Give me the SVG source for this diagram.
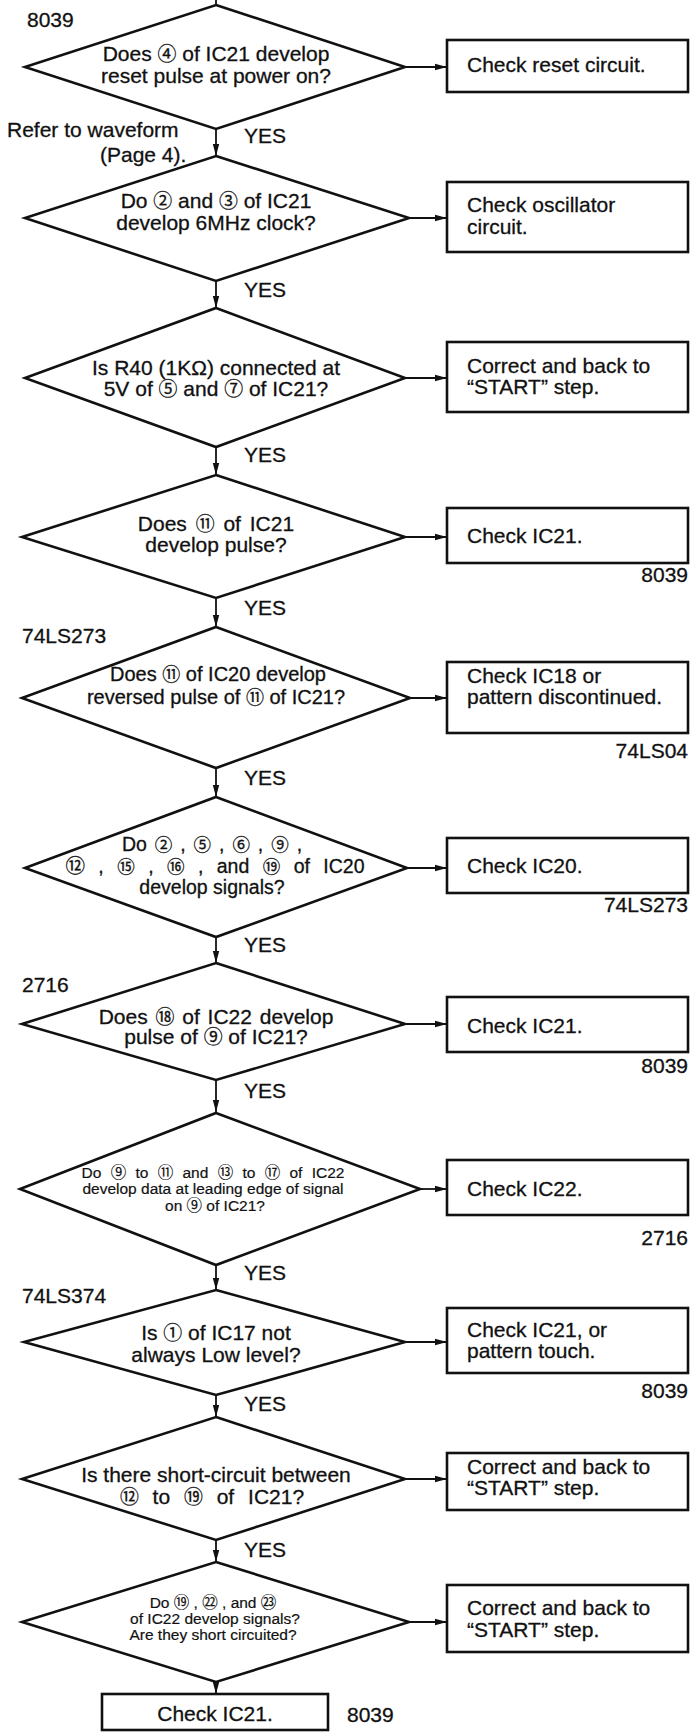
<svg xmlns="http://www.w3.org/2000/svg" width="690" height="1733" viewBox="0 0 690 1733">
<defs>
<marker id="ah" markerUnits="userSpaceOnUse" markerWidth="13" markerHeight="8" refX="12" refY="4" orient="auto">
<path d="M0,0.8 L12,4 L0,7.2 z" fill="#111"/>
</marker>
<style>
.shape{fill:#fff;stroke:#111;stroke-width:2.6;stroke-linejoin:miter}
.con{fill:none;stroke:#111;stroke-width:1.8}
text{font-family:"Liberation Sans","Noto Sans CJK JP",Arial,sans-serif;font-size:21px;fill:#111;stroke:#111;stroke-width:0.3}
.n{font-size:0.9em}
.c{text-anchor:middle}
.r{text-anchor:end}
.s15{font-size:15.5px;stroke-width:0.2}
.s20{font-size:19.5px}
.s205{font-size:20px}
</style>
</defs>
<rect width="690" height="1733" fill="#fff"/>

<g id="connectors">
<line class="con" x1="216" y1="0" x2="216" y2="5"/>
<line class="con" x1="216" y1="129" x2="216" y2="156" marker-end="url(#ah)"/>
<line class="con" x1="216" y1="281" x2="216" y2="308" marker-end="url(#ah)"/>
<line class="con" x1="216" y1="447" x2="216" y2="475" marker-end="url(#ah)"/>
<line class="con" x1="216" y1="598" x2="216" y2="627" marker-end="url(#ah)"/>
<line class="con" x1="216" y1="768" x2="216" y2="797" marker-end="url(#ah)"/>
<line class="con" x1="216" y1="937" x2="216" y2="963" marker-end="url(#ah)"/>
<line class="con" x1="216" y1="1080" x2="216" y2="1112" marker-end="url(#ah)"/>
<line class="con" x1="216" y1="1265" x2="216" y2="1290" marker-end="url(#ah)"/>
<line class="con" x1="216" y1="1395" x2="216" y2="1417" marker-end="url(#ah)"/>
<line class="con" x1="216" y1="1540" x2="216" y2="1562" marker-end="url(#ah)"/>
<line class="con" x1="216" y1="1682" x2="216" y2="1694" marker-end="url(#ah)"/>
<line class="con" x1="405" y1="67" x2="447" y2="67" marker-end="url(#ah)"/>
<line class="con" x1="409" y1="218" x2="447" y2="218" marker-end="url(#ah)"/>
<line class="con" x1="405" y1="378" x2="447" y2="378" marker-end="url(#ah)"/>
<line class="con" x1="405" y1="537" x2="447" y2="537" marker-end="url(#ah)"/>
<line class="con" x1="410" y1="698" x2="447" y2="698" marker-end="url(#ah)"/>
<line class="con" x1="407" y1="868" x2="447" y2="868" marker-end="url(#ah)"/>
<line class="con" x1="405" y1="1024" x2="447" y2="1024" marker-end="url(#ah)"/>
<line class="con" x1="420" y1="1189" x2="447" y2="1189" marker-end="url(#ah)"/>
<line class="con" x1="405" y1="1342" x2="447" y2="1342" marker-end="url(#ah)"/>
<line class="con" x1="405" y1="1479" x2="447" y2="1479" marker-end="url(#ah)"/>
<line class="con" x1="409" y1="1622" x2="447" y2="1622" marker-end="url(#ah)"/>
<text x="244" y="143">YES</text>
<text x="244" y="297">YES</text>
<text x="244" y="462">YES</text>
<text x="244" y="615">YES</text>
<text x="244" y="785">YES</text>
<text x="244" y="952">YES</text>
<text x="244" y="1098">YES</text>
<text x="244" y="1280">YES</text>
<text x="244" y="1411">YES</text>
<text x="244" y="1557">YES</text>
</g>

<g id="labels">
<text x="27" y="27">8039</text>
<text x="7" y="137">Refer to waveform</text>
<text x="100" y="162">(Page 4).</text>
<text x="22" y="643">74LS273</text>
<text x="22" y="992">2716</text>
<text x="22" y="1303">74LS374</text>
<text class="r" x="688" y="582">8039</text>
<text class="r" x="688" y="758">74LS04</text>
<text class="r" x="688" y="912">74LS273</text>
<text class="r" x="688" y="1073">8039</text>
<text class="r" x="688" y="1245">2716</text>
<text class="r" x="688" y="1398">8039</text>
<text x="347" y="1722">8039</text>
</g>

<g id="d1">
<polygon class="shape" points="216,5 405,67 216,129 25,67"/>
<text class="c" x="216" y="61">Does <tspan class="n">④</tspan> of IC21 develop</text>
<text class="c" x="216" y="83">reset pulse at power on?</text>
</g>
<g id="b1">
<rect class="shape" x="447" y="40" width="241" height="52"/>
<text x="467" y="72">Check reset circuit.</text>
</g>

<g id="d2">
<polygon class="shape" points="216,156 409,218 216,281 25,218"/>
<text class="c" x="216" y="208">Do <tspan class="n">②</tspan> and <tspan class="n">③</tspan> of IC21</text>
<text class="c" x="216" y="230">develop 6MHz clock?</text>
</g>
<g id="b2">
<rect class="shape" x="447" y="182" width="241" height="70"/>
<text x="467" y="212">Check oscillator</text>
<text x="467" y="234">circuit.</text>
</g>

<g id="d3">
<polygon class="shape" points="216,308 405,378 216,447 25,378"/>
<text class="c" x="216" y="375">Is R40 (1KΩ) connected at</text>
<text class="c" x="216" y="396">5V of <tspan class="n">⑤</tspan> and <tspan class="n">⑦</tspan> of IC21?</text>
</g>
<g id="b3">
<rect class="shape" x="447" y="342" width="241" height="70"/>
<text x="467" y="373">Correct and back to</text>
<text x="467" y="394">“START” step.</text>
</g>

<g id="d4">
<polygon class="shape" points="216,475 405,537 216,598 22,537"/>
<text class="c" x="216" y="531" word-spacing="3">Does <tspan class="n">⑪</tspan> of IC21</text>
<text class="c" x="216" y="552">develop pulse?</text>
</g>
<g id="b4">
<rect class="shape" x="447" y="508" width="241" height="55"/>
<text x="467" y="543">Check IC21.</text>
</g>

<g id="d5">
<polygon class="shape" points="216,627 410,698 216,768 22,698"/>
<text class="c s205" x="218" y="681">Does <tspan class="n">⑪</tspan> of IC20 develop</text>
<text class="c s205" x="216" y="704">reversed pulse of <tspan class="n">⑪</tspan> of IC21?</text>
</g>
<g id="b5">
<rect class="shape" x="447" y="662" width="241" height="71"/>
<text x="467" y="683">Check IC18 or</text>
<text x="467" y="704">pattern discontinued.</text>
</g>

<g id="d6">
<polygon class="shape" points="216,797 407,868 216,937 25,868"/>
<text class="c s20" x="212" y="851" word-spacing="2.5">Do <tspan class="n">②</tspan> , <tspan class="n">⑤</tspan> , <tspan class="n">⑥</tspan> , <tspan class="n">⑨</tspan> ,</text>
<text class="c s20" x="215" y="873" word-spacing="8">⑫ , <tspan class="n">⑮</tspan> , <tspan class="n">⑯</tspan> , and <tspan class="n">⑲</tspan> of IC20</text>
<text class="c s20" x="212" y="894">develop signals?</text>
</g>
<g id="b6">
<rect class="shape" x="447" y="838" width="241" height="55"/>
<text x="467" y="873">Check IC20.</text>
</g>

<g id="d7">
<polygon class="shape" points="216,963 405,1024 216,1080 22,1024"/>
<text class="c" x="216" y="1024" word-spacing="2">Does <tspan class="n">⑱</tspan> of IC22 develop</text>
<text class="c" x="216" y="1044">pulse of <tspan class="n">⑨</tspan> of IC21?</text>
</g>
<g id="b7">
<rect class="shape" x="447" y="997" width="241" height="55"/>
<text x="467" y="1033">Check IC21.</text>
</g>

<g id="d8">
<polygon class="shape" points="216,1113 420,1189 216,1265 20,1189"/>
<text class="c s15" x="213" y="1178" word-spacing="5">Do ⑨ to ⑪ and ⑬ to ⑰ of IC22</text>
<text class="c s15" x="213" y="1194">develop data at leading edge of signal</text>
<text class="c s15" x="215" y="1211">on ⑨ of IC21?</text>
</g>
<g id="b8">
<rect class="shape" x="447" y="1160" width="241" height="55"/>
<text x="467" y="1196">Check IC22.</text>
</g>

<g id="d9">
<polygon class="shape" points="216,1290 405,1342 216,1395 24,1342"/>
<text class="c" x="216" y="1340">Is <tspan class="n">①</tspan> of IC17 not</text>
<text class="c" x="216" y="1362">always Low level?</text>
</g>
<g id="b9">
<rect class="shape" x="447" y="1308" width="241" height="65"/>
<text x="467" y="1337">Check IC21, or</text>
<text x="467" y="1358">pattern touch.</text>
</g>

<g id="d10">
<polygon class="shape" points="216,1417 405,1479 216,1540 22,1479"/>
<text class="c" x="216" y="1482">Is there short-circuit between</text>
<text class="c" x="212" y="1504" word-spacing="8"><tspan class="n">⑫</tspan> to <tspan class="n">⑲</tspan> of IC21?</text>
</g>
<g id="b10">
<rect class="shape" x="447" y="1453" width="241" height="57"/>
<text x="467" y="1474">Correct and back to</text>
<text x="467" y="1495">“START” step.</text>
</g>

<g id="d11">
<polygon class="shape" points="216,1562 409,1622 216,1682 22,1622"/>
<text class="c s15" x="213" y="1608">Do ⑲ , ㉒ , and ㉓</text>
<text class="c s15" x="215" y="1624">of IC22 develop signals?</text>
<text class="c s15" x="213" y="1640">Are they short circuited?</text>
</g>
<g id="b11">
<rect class="shape" x="447" y="1585" width="241" height="67"/>
<text x="467" y="1615">Correct and back to</text>
<text x="467" y="1637">“START” step.</text>
</g>

<g id="end">
<rect class="shape" x="102" y="1694" width="226" height="36"/>
<text class="c" x="215" y="1721">Check IC21.</text>
</g>
</svg>
